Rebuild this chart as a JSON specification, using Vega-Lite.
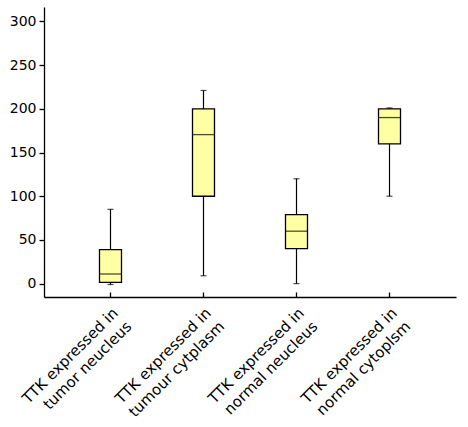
{
  "$schema": "https://vega.github.io/schema/vega-lite/v6.json",
  "width": 412,
  "height": 290,
  "autosize": "none",
  "padding": {"left": 44, "top": 7, "right": 12, "bottom": 130},
  "background": "white",
  "config": {
    "view": {"stroke": null},
    "font": "DejaVu Sans",
    "axis": {
      "grid": false,
      "domainColor": "black",
      "domainWidth": 1.3,
      "tickColor": "black",
      "tickWidth": 1.3,
      "labelColor": "black",
      "labelFont": "DejaVu Sans",
      "labelFontSize": 13.5,
      "title": null
    }
  },
  "data": {
    "values": [
      {"group": "TTK expressed in|tumor neucleus", "min": -1, "q1": 1.5, "median": 11, "q3": 39, "max": 85},
      {"group": "TTK expressed in|tumour cytplasm", "min": 9, "q1": 100, "median": 170.5, "q3": 200, "max": 221},
      {"group": "TTK expressed in|normal neucleus", "min": 0, "q1": 40, "median": 60, "q3": 79, "max": 120},
      {"group": "TTK expressed in|normal cytoplsm", "min": 100, "q1": 160, "median": 190, "q3": 200, "max": 201}
    ]
  },
  "encoding": {
    "x": {
      "field": "group",
      "type": "nominal",
      "sort": null,
      "scale": {"paddingInner": 0.3, "paddingOuter": 0.365},
      "axis": {
        "labelAngle": -45,
        "labelAlign": "right",
        "labelBaseline": "top",
        "labelExpr": "split(datum.value, '|')",
        "tickSize": -5,
        "labelPadding": 13,
        "labelFontSize": 15,
        "labelLineHeight": 19
      }
    }
  },
  "layer": [
    {
      "mark": {"type": "rule", "color": "black", "strokeWidth": 1.2},
      "encoding": {
        "y": {
          "field": "min",
          "type": "quantitative",
          "scale": {"domain": [-15.3, 316.5], "nice": false, "zero": false},
          "axis": {"values": [0, 50, 100, 150, 200, 250, 300], "tickSize": 5, "labelPadding": 3, "labelFontSize": 14}
        },
        "y2": {"field": "max"}
      }
    },
    {
      "mark": {"type": "tick", "color": "black", "size": 6, "thickness": 1.2},
      "encoding": {"y": {"field": "min", "type": "quantitative"}}
    },
    {
      "mark": {"type": "tick", "color": "black", "size": 6, "thickness": 1.2},
      "encoding": {"y": {"field": "max", "type": "quantitative"}}
    },
    {
      "mark": {"type": "bar", "fill": "#FFFFA3", "stroke": "black", "strokeWidth": 1.3, "size": 22},
      "encoding": {"y": {"field": "q1", "type": "quantitative"}, "y2": {"field": "q3"}}
    },
    {
      "mark": {"type": "tick", "color": "black", "size": 22, "thickness": 1.3},
      "encoding": {"y": {"field": "median", "type": "quantitative"}}
    }
  ]
}
